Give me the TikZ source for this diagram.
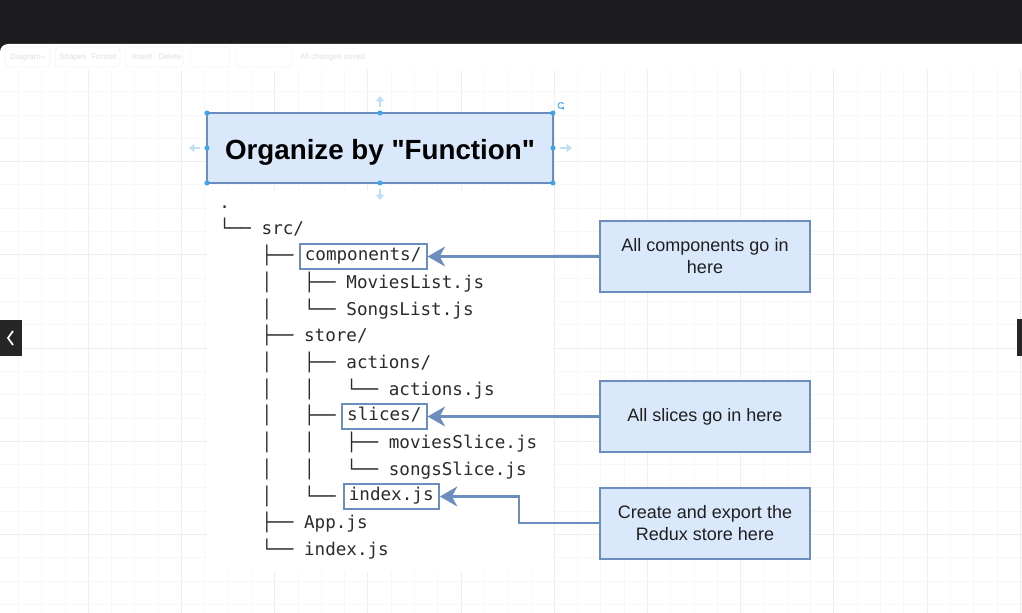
\documentclass[tikz,border=0pt]{standalone}
\usepackage{fontspec}
\setmainfont{Liberation Sans}
\newfontfamily\titlefont[Ligatures=TeXOff]{Liberation Sans}
\newfontfamily\monofont{DejaVu Sans Mono}
\usetikzlibrary{arrows.meta}
\definecolor{fillblue}{HTML}{DAE8FC}
\definecolor{edgeblue}{HTML}{6C8EBF}
\definecolor{handle}{HTML}{3DA5EE}
\definecolor{handlelight}{HTML}{BEDFF6}
\definecolor{barblack}{HTML}{1C1C1E}
\definecolor{gridminor}{HTML}{F7F7F7}
\definecolor{gridmajor}{HTML}{EEEEEE}
\definecolor{treetext}{HTML}{2B2B2B}
\definecolor{faint}{HTML}{E0E0E0}
\tikzset{
  pre/.style={anchor=west, inner sep=0pt, text height=9pt, text depth=3pt, text=treetext,
    font=\monofont\fontsize{13.2pt}{16pt}\selectfont},
  nm/.style={pre},
  boxed/.style={pre, draw=edgeblue, line width=1.5pt, fill=white, inner xsep=4pt, inner ysep=0pt, minimum height=18.75pt},
  callout/.style={draw=edgeblue, fill=fillblue, line width=1.5pt, minimum width=157.5pt, minimum height=53.25pt,
    align=center, text=black!88, font=\fontsize{13.5pt}{16.5pt}\selectfont, inner sep=2pt},
  conn/.style={draw=edgeblue, line width=1.6pt, -{Stealth[length=13pt,width=15pt,inset=4pt]}},
  tool/.style={anchor=west, inner sep=0pt, text=faint, font=\fontsize{6pt}{7pt}\selectfont},
  toolgrp/.style={draw=black!4, rounded corners=3pt, line width=0.5pt},
  hdot/.style={fill=handle},
  harrow/.style={draw=handlelight, line width=1.4pt, -{Triangle[length=4pt,width=6pt]}}
}
\begin{document}
\begin{tikzpicture}[x=0.75pt,y=-0.75pt]
\useasboundingbox (0,0) rectangle (1022,613);
% top bar and window
\fill[barblack] (0,0) rectangle (1022,613);
\fill[white, rounded corners=6pt] (0,44) rectangle (1040,640);
% grid
\foreach \k in {0,...,43} {
  \pgfmathsetmacro\xx{18.3+23.3*\k}
  \draw[gridminor, line width=0.6pt] (\xx,70) -- (\xx,613);
}
\foreach \j in {0,...,22} {
  \pgfmathsetmacro\yy{91.7+23.3*\j}
  \draw[gridminor, line width=0.6pt] (0,\yy) -- (1022,\yy);
}
\foreach \k in {3,7,...,43} {
  \pgfmathsetmacro\xx{18.3+23.3*\k}
  \draw[gridmajor, line width=0.6pt] (\xx,70) -- (\xx,613);
}
\foreach \j in {3,7,...,19} {
  \pgfmathsetmacro\yy{91.7+23.3*\j}
  \draw[gridmajor, line width=0.6pt] (0,\yy) -- (1022,\yy);
}
% faint toolbar
\draw[toolgrp] (5,47) rectangle (50,67);
\draw[toolgrp] (55,47) rectangle (120,67);
\draw[toolgrp] (125,47) rectangle (183,67);
\draw[toolgrp] (190,47) rectangle (230,67);
\draw[toolgrp] (236,47) rectangle (292,67);
\node[tool] (tb1) at (10,57) {Diagram};
\draw[faint, line width=0.5pt] (41,56) -- (43,58) -- (45,56);
\node[tool] (tb2) at (59,57) {Shapes};
\node[tool] (tb3) at (91,57) {Format};
\node[tool] (tb4) at (132,57) {Insert};
\node[tool] (tb5) at (158,57) {Delete};
\node[tool] (tb6) at (300,57) {All changes saved};
% left / right buttons
\fill[black!85] (0,320) rectangle (22,356);
\draw[white, line width=1.3pt] (13,331) -- (8,338) -- (13,345);
\fill[black!85] (1017,319) rectangle (1022,356);
% tree backdrop
\fill[white] (207,190) rectangle (553,572);
% title
\node[draw=edgeblue, fill=fillblue, line width=1.2pt, minimum width=259.5pt, minimum height=52.5pt,
  text height=18pt, text depth=0pt,
  font=\titlefont\bfseries\fontsize{20.8pt}{24pt}\selectfont, text=black] (title) at (380,148) {Organize by "Function"};
% selection handles
\foreach \p in {(207,113),(380,113),(553,113),(207,148),(553,148),(207,183),(380,183),(553,183)}
  \fill[hdot] \p circle (1.9pt);
\draw[harrow] (380,107) -- (380,96);
\draw[harrow] (380,189) -- (380,200);
\draw[harrow] (200,148) -- (189,148);
\draw[harrow] (560,148) -- (572,148);
\draw[handle, line width=0.7pt, -{Stealth[length=2pt,width=2.5pt]}] (563.5,104) arc (30:330:2.2pt);
% tree
\node[pre] (dot) at (219,204.3) {.};
\node[pre] (p0) at (219,231) {└──};
\node[nm] (n0) at (261.4,231) {src/};
\node[pre] (p1) at (219,257.7) {~~~~├──};
\node[boxed] (comp) at (298.5,256.5) {components/};
\node[pre] (p2) at (219,284.4) {~~~~│~~~├──};
\node[nm] (n2) at (346.2,284.4) {MoviesList.js};
\node[pre] (p3) at (219,311.1) {~~~~│~~~└──};
\node[nm] (n3) at (346.2,311.1) {SongsList.js};
\node[pre] (p4) at (219,337.8) {~~~~├──};
\node[nm] (n4) at (303.8,337.8) {store/};
\node[pre] (p5) at (219,364.5) {~~~~│~~~├──};
\node[nm] (n5) at (346.2,364.5) {actions/};
\node[pre] (p6) at (219,391.2) {~~~~│~~~│~~~└──};
\node[nm] (n6) at (388.6,391.2) {actions.js};
\node[pre] (p7) at (219,417.9) {~~~~│~~~├──};
\node[boxed] (slices) at (340.9,416.5) {slices/~};
\node[pre] (p8) at (219,444.6) {~~~~│~~~│~~~├──};
\node[nm] (n8) at (388.6,444.6) {moviesSlice.js};
\node[pre] (p9) at (219,471.3) {~~~~│~~~│~~~└──};
\node[nm] (n9) at (388.6,471.3) {songsSlice.js};
\node[pre] (p10) at (219,498) {~~~~│~~~└──};
\node[boxed] (idx) at (342.5,496.5) {index.js};
\node[pre] (p11) at (219,524.7) {~~~~├──};
\node[nm] (n11) at (303.8,524.7) {App.js};
\node[pre] (p12) at (219,551.4) {~~~~└──};
\node[nm] (n12) at (303.8,551.4) {index.js};
% callouts
\node[callout] (c1) at (705,256.5) {All components go in\\here};
\node[callout] (c2) at (705,416.5) {All slices go in here};
\node[callout] (c3) at (705,523) {Create and export the\\Redux store here};
\coordinate (bend) at (519,523);
% connectors
\draw[conn] (c1.west) -- (comp.east);
\draw[conn] (c2.west) -- (slices.east);
\draw[conn] (c3.west) -- (bend) |- (idx.east);
\end{tikzpicture}
\end{document}
